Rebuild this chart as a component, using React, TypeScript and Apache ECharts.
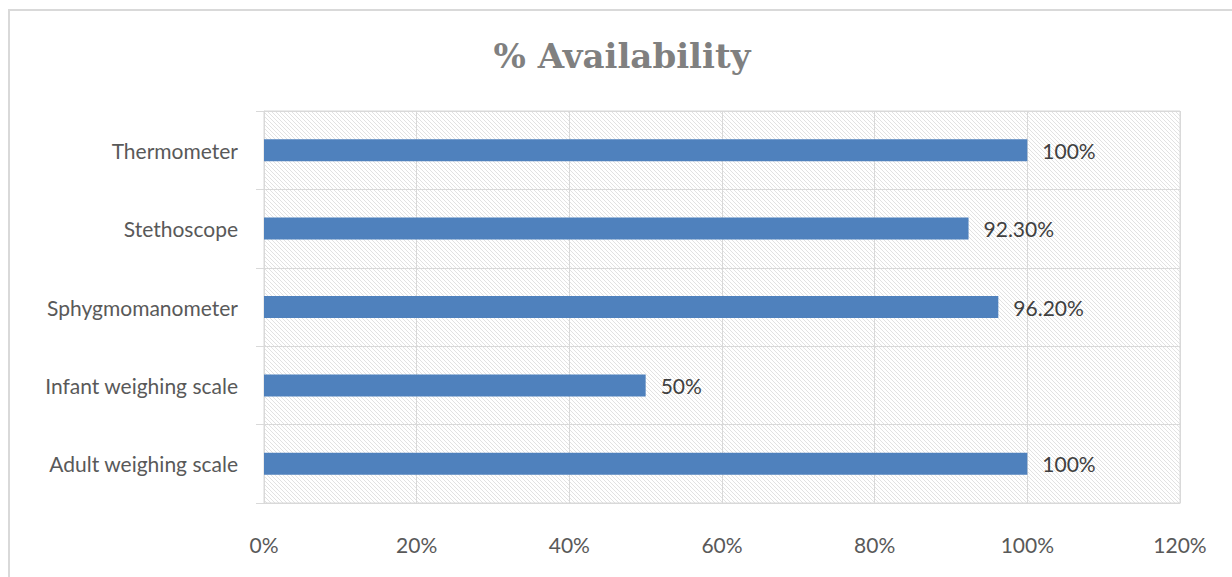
import React, { useEffect, useRef } from "react";
import * as echarts from "echarts";

const categories = [
  "Adult weighing scale",
  "Infant weighing scale",
  "Sphygmomanometer",
  "Stethoscope",
  "Thermometer",
];
const values = [100, 50, 96.2, 92.3, 100];
const valueLabels = ["100%", "50%", "96.20%", "92.30%", "100%"];
const titleText = "% Availability";

function makeHatch(): HTMLCanvasElement {
  const c = document.createElement("canvas");
  const s = 4;
  c.width = s;
  c.height = s;
  const ctx = c.getContext("2d")!;
  ctx.fillStyle = "#ffffff";
  ctx.fillRect(0, 0, s, s);
  ctx.strokeStyle = "#e2e2e2";
  ctx.lineWidth = 1;
  ctx.beginPath();
  ctx.moveTo(-1, -1);
  ctx.lineTo(s + 1, s + 1);
  ctx.moveTo(-1, s - 1);
  ctx.lineTo(1, s + 1);
  ctx.moveTo(s - 1, -1);
  ctx.lineTo(s + 1, 1);
  ctx.stroke();
  return c;
}

export default function App() {
  const ref = useRef<HTMLDivElement>(null);
  useEffect(() => {
    if (!ref.current) return;
    const chart = echarts.init(ref.current, undefined, { renderer: "svg" });
    const hatch = makeHatch();
    const labelFont = "Lato, 'Open Sans', sans-serif";
    chart.setOption({
      animation: false,
      backgroundColor: "#ffffff",
      title: {
        text: titleText,
        left: 617,
        top: 34,
        textAlign: "center",
        textStyle: {
          fontFamily: "'DejaVu Serif', 'Liberation Serif', serif",
          fontWeight: "bold",
          fontSize: 34,
          color: "#808080",
        },
      },
      graphic: [
        {
          type: "rect",
          shape: { x: 9, y: 10, width: 1260, height: 620 },
          style: { fill: "none", stroke: "#d9d9d9", lineWidth: 2 },
          silent: true,
          z: -10,
        },
      ],
      grid: {
        left: 264,
        right: 52,
        top: 111,
        bottom: 74,
        show: true,
        borderColor: "#d9d9d9",
        borderWidth: 1,
        backgroundColor: {
          image: hatch,
          imageWidth: 4,
          imageHeight: 4,
          repeat: "repeat",
        },
      },
      xAxis: {
        type: "value",
        min: 0,
        max: 120,
        interval: 20,
        axisLine: { show: true, lineStyle: { color: "#d9d9d9" } },
        axisTick: { show: false },
        splitLine: { show: true, lineStyle: { color: "#d9d9d9", width: 1 } },
        axisLabel: {
          formatter: "{value}%",
          margin: 31,
          fontFamily: labelFont,
          fontSize: 21,
          color: "#595959",
        },
      },
      yAxis: {
        type: "category",
        data: categories,
        axisLine: { show: true, lineStyle: { color: "#d9d9d9" } },
        axisTick: { show: true, length: 8, lineStyle: { color: "#d9d9d9" } },
        splitLine: { show: true, lineStyle: { color: "#d9d9d9", width: 1 } },
        axisLabel: {
          margin: 26,
          fontFamily: labelFont,
          fontSize: 21,
          color: "#595959",
        },
      },
      series: [
        {
          type: "bar",
          data: values,
          barWidth: 22,
          itemStyle: { color: "#4F81BD" },
          label: {
            show: true,
            position: "right",
            distance: 15,
            formatter: (p: any) => valueLabels[p.dataIndex],
            fontFamily: labelFont,
            fontSize: 21,
            color: "#404040",
          },
        },
      ],
    });
    return () => chart.dispose();
  }, []);
  return (
    <div
      ref={ref}
      style={{ position: "fixed", left: 0, top: 0, width: 1232, height: 577 }}
    />
  );
}
